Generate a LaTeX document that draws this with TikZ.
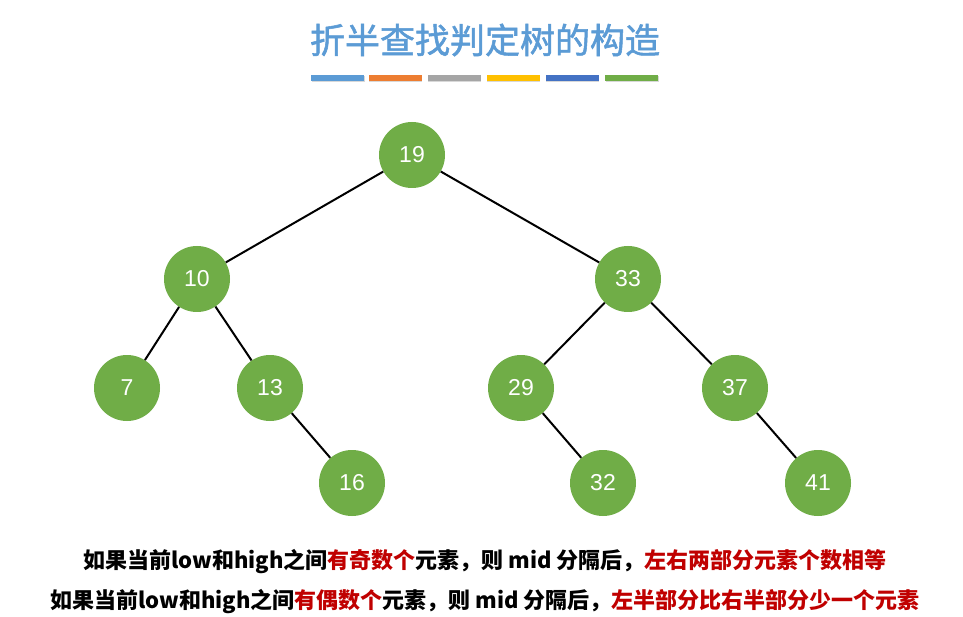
\documentclass[tikz,border=0pt]{standalone}
\usepackage{fontspec}
\setmainfont{Liberation Sans}
\newfontfamily\cjk{Noto Sans CJK SC}
\newfontfamily\cjktitle{Noto Sans CJK SC}[FakeBold=1.5]
\usetikzlibrary{positioning,shadows}

\definecolor{titleblue}{HTML}{5B9BD5}
\definecolor{barorange}{HTML}{ED7D31}
\definecolor{bargray}{HTML}{A5A5A5}
\definecolor{baryellow}{HTML}{FFC000}
\definecolor{bardarkblue}{HTML}{4472C4}
\definecolor{treegreen}{HTML}{70AD47}
\definecolor{notered}{HTML}{C00000}

\tikzset{
  treenode/.style={circle,fill=treegreen,minimum size=66pt,inner sep=0pt,
    text=white,font=\fontsize{23}{23}\selectfont},
  treeedge/.style={line width=2pt,black},
  titlebar/.style={minimum width=53pt,minimum height=6pt,inner sep=0pt,
    drop shadow={shadow xshift=0.6pt,shadow yshift=-1pt,opacity=0.3}},
  notetext/.style={font=\cjk\bfseries\fontsize{22}{22}\selectfont,inner sep=0pt}
}

\begin{document}
\begin{tikzpicture}[x=1pt,y=-1pt]
\useasboundingbox[fill=white] (0,0) rectangle (963,617);

% Title
\node[font=\cjktitle\fontsize{35}{35}\selectfont,text=titleblue] (title) at (485,40) {折半查找判定树的构造};

% Color bars
\node[titlebar,fill=titleblue] (bar1) at (337.5,78.5) {};
\node[titlebar,fill=barorange] (bar2) at (395,78.5) {};
\node[titlebar,fill=bargray] (bar3) at (454,78.5) {};
\node[titlebar,fill=baryellow] (bar4) at (513,78.5) {};
\node[titlebar,fill=bardarkblue] (bar5) at (572,78.5) {};
\node[titlebar,fill=treegreen] (bar6) at (631.5,78.5) {};

% Tree nodes
\node[treenode] (n19) at (412,155) {19};
\node[treenode] (n10) at (197,279) {10};
\node[treenode] (n33) at (628,279) {33};
\node[treenode] (n7) at (127,388) {7};
\node[treenode] (n13) at (270,388) {13};
\node[treenode] (n29) at (521,388) {29};
\node[treenode] (n37) at (735,388) {37};
\node[treenode] (n16) at (352,483) {16};
\node[treenode] (n32) at (603,483) {32};
\node[treenode] (n41) at (818,483) {41};

% Tree edges
\draw[treeedge] (n19) -- (n10);
\draw[treeedge] (n19) -- (n33);
\draw[treeedge] (n10) -- (n7);
\draw[treeedge] (n10) -- (n13);
\draw[treeedge] (n13) -- (n16);
\draw[treeedge] (n33) -- (n29);
\draw[treeedge] (n33) -- (n37);
\draw[treeedge] (n29) -- (n32);
\draw[treeedge] (n37) -- (n41);

% Notes
\node[notetext] (note1) at (485,562) {如果当前low和high之间\textcolor{notered}{有奇数个}元素，则 mid 分隔后，\textcolor{notered}{左右两部分元素个数相等}};
\node[notetext] (note2) at (485,602) {如果当前low和high之间\textcolor{notered}{有偶数个}元素，则 mid 分隔后，\textcolor{notered}{左半部分比右半部分少一个元素}};
\end{tikzpicture}
\end{document}
